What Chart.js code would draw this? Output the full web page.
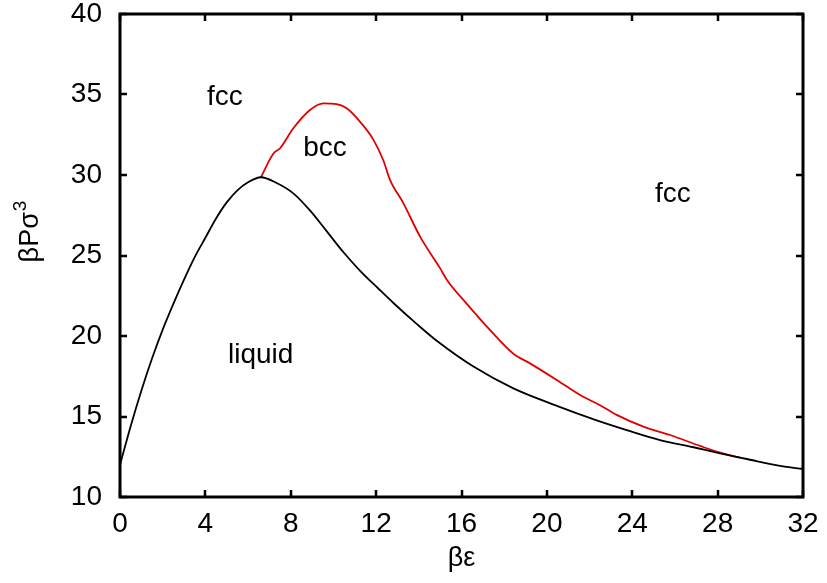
<!DOCTYPE html>
<html>
<head>
<meta charset="utf-8">
<script src="https://cdn.jsdelivr.net/npm/chart.js@4.4.1/dist/chart.umd.min.js"></script>
<style>
  html, body { margin: 0; padding: 0; background: #fff; }
  #wrap { width: 827px; height: 583px; }
</style>
</head>
<body>
<div id="wrap"><canvas id="phase"></canvas></div>
<script>
// tick positions
const xTicks = [0, 4, 8, 12, 16, 20, 24, 28, 32];
const yTicks = [10, 15, 20, 25, 30, 35, 40];

// liquid / solid coexistence line
const liquidX = [0, 0.5, 1.0, 1.5, 2.0, 2.5, 3.0, 3.5, 4.0, 4.5, 5.0, 5.5, 6.0, 6.6, 7.34, 8.12, 8.9, 9.69, 10.47, 11.25, 12.1, 12.81, 13.9, 14.84, 16.56, 18.43, 20.5, 22.3, 23.74, 25.3, 26.87, 28.12, 29.37, 30.93, 32];
const liquidY = [12.0, 14.4, 16.6, 18.6, 20.4, 22.0, 23.5, 24.9, 26.1, 27.3, 28.3, 29.05, 29.55, 29.86, 29.5, 28.86, 27.8, 26.5, 25.2, 24.05, 22.95, 22.05, 20.75, 19.7, 18.1, 16.75, 15.65, 14.78, 14.16, 13.54, 13.09, 12.71, 12.36, 11.93, 11.74];

// fcc / bcc boundary
const bccX = [6.6, 7.19, 7.5, 8.12, 8.9, 9.53, 10.15, 10.62, 11.25, 11.87, 12.34, 12.65, 13.28, 14.06, 15.0, 15.31, 16.25, 17.34, 18.43, 19.21, 20.46, 21.56, 22.49, 23.27, 24.52, 25.77, 27.18, 28.12, 29.05];
const bccY = [29.86, 31.34, 31.66, 32.9, 34.04, 34.45, 34.4, 34.14, 33.3, 32.2, 30.9, 29.7, 28.24, 26.17, 24.2, 23.5, 22.0, 20.37, 18.9, 18.3, 17.27, 16.33, 15.7, 15.1, 14.37, 13.85, 13.17, 12.75, 12.44];

// phase names, anchored at their left baseline
const phaseNames = ['fcc', 'bcc', 'fcc', 'liquid'];
const phaseX = [4.08, 8.58, 25.07, 5.06];
const phaseY = [34.35, 31.2, 28.34, 18.34];

const FONT = '"Liberation Sans", Arial, Helvetica, sans-serif';

const toPoints = (xs, ys) => xs.map((x, i) => ({ x: x, y: ys[i] }));

// inward ticks on all four sides, heavy frame, phase names and axis titles
const framePlugin = {
  id: 'frame',
  afterDraw(chart) {
    const ctx = chart.ctx;
    const a = chart.chartArea;
    const xs = chart.scales.x;
    const ys = chart.scales.y;
    const len = 7;
    ctx.save();
    ctx.strokeStyle = '#000';
    ctx.lineWidth = 2.5;
    ctx.beginPath();
    xTicks.forEach(v => {
      const px = Math.round(xs.getPixelForValue(v));
      ctx.moveTo(px, a.bottom); ctx.lineTo(px, a.bottom - len);
      ctx.moveTo(px, a.top); ctx.lineTo(px, a.top + len);
    });
    yTicks.forEach(v => {
      const py = Math.round(ys.getPixelForValue(v));
      ctx.moveTo(a.left, py); ctx.lineTo(a.left + len, py);
      ctx.moveTo(a.right, py); ctx.lineTo(a.right - len, py);
    });
    ctx.stroke();
    ctx.lineWidth = 3;
    ctx.strokeRect(a.left, a.top, a.right - a.left, a.bottom - a.top);

    ctx.fillStyle = '#000';
    ctx.font = '28px ' + FONT;
    ctx.textAlign = 'left';
    ctx.textBaseline = 'alphabetic';
    phaseNames.forEach((t, i) => {
      ctx.fillText(t, xs.getPixelForValue(phaseX[i]), ys.getPixelForValue(phaseY[i]));
    });

    // x title
    ctx.font = '27px ' + FONT;
    ctx.textAlign = 'center';
    ctx.fillText('βε', (a.left + a.right) / 2, 566);

    // y title with superscript
    ctx.translate(38, 232);
    ctx.rotate(-Math.PI / 2);
    const base = 'βPσ';
    ctx.font = '27px ' + FONT;
    const w1 = ctx.measureText(base).width;
    ctx.font = '19px ' + FONT;
    const w2 = ctx.measureText('3').width;
    const start = -(w1 + w2) / 2;
    ctx.textAlign = 'left';
    ctx.font = '27px ' + FONT;
    ctx.fillText(base, start, 0);
    ctx.font = '19px ' + FONT;
    ctx.fillText('3', start + w1 + 1, -12);
    ctx.restore();
  }
};

new Chart(document.getElementById('phase'), {
  type: 'line',
  data: {
    datasets: [
      { data: toPoints(liquidX, liquidY), borderColor: '#000', borderWidth: 1.8, pointRadius: 0, cubicInterpolationMode: 'monotone', fill: false },
      { data: toPoints(bccX, bccY), borderColor: '#e00000', borderWidth: 1.8, pointRadius: 0, cubicInterpolationMode: 'monotone', fill: false }
    ]
  },
  options: {
    responsive: true,
    maintainAspectRatio: false,
    animation: false,
    layout: { padding: { top: 14, right: 24, left: 0, bottom: 0 } },
    plugins: { legend: { display: false }, tooltip: { enabled: false } },
    scales: {
      x: {
        type: 'linear', min: 0, max: 32,
        grid: { display: false, drawTicks: false },
        border: { display: false },
        afterBuildTicks: s => { s.ticks = xTicks.map(v => ({ value: v })); },
        afterFit: s => { s.height = 86; s.paddingLeft = 0; s.paddingRight = 0; },
        ticks: { color: '#000', padding: 10, maxRotation: 0, font: { family: FONT, size: 28 } }
      },
      y: {
        type: 'linear', min: 10, max: 40,
        grid: { display: false, drawTicks: false },
        border: { display: false },
        afterBuildTicks: s => { s.ticks = yTicks.map(v => ({ value: v })); },
        afterFit: s => { s.width = 120; s.paddingTop = 0; s.paddingBottom = 0; },
        ticks: { color: '#000', padding: 18, font: { family: FONT, size: 28 } }
      }
    }
  },
  plugins: [framePlugin]
});
</script>
</body>
</html>
